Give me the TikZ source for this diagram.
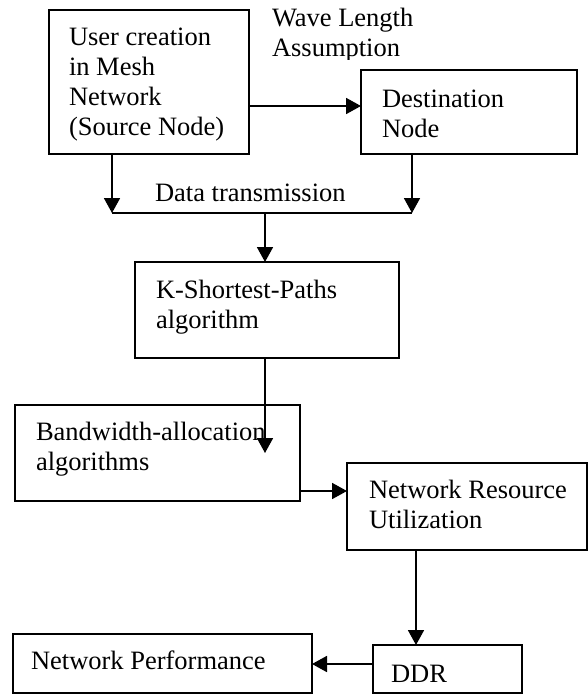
\documentclass[tikz,border=0pt]{standalone}
\usepackage{fontspec}
\setmainfont{Liberation Serif}
\usetikzlibrary{arrows.meta,calc}
\begin{document}
\begin{tikzpicture}[x=1pt,y=-1pt,
  box/.style={draw,line width=1.7pt,inner sep=0pt,outer sep=0pt,anchor=north west},
  txt/.style={inner sep=0pt,outer sep=0pt,anchor=north west,align=left,
    font=\fontsize{26.5}{30}\selectfont},
  arr/.style={line width=1.8pt,-{Triangle[length=15pt,width=16pt]}},
  ln/.style={line width=1.6pt}]
\useasboundingbox[fill=white] (0,0) rectangle (588,694);
% boxes
\node[box,minimum width=200pt,minimum height=144pt] (src) at (49,10) {};
\node[box,minimum width=216pt,minimum height=84pt] (dst) at (361,70) {};
\node[box,minimum width=264pt,minimum height=96pt] (ksp) at (135,262) {};
\node[box,minimum width=285pt,minimum height=96pt] (bw) at (15,405) {};
\node[box,minimum width=240pt,minimum height=87pt] (nru) at (347,463) {};
\node[box,minimum width=299pt,minimum height=59pt] (np) at (13,634) {};
\node[box,minimum width=149pt,minimum height=48pt] (ddr) at (373,645) {};
% texts
\node[txt] (tsrc) at (69,27.5) {User creation\\in Mesh\\Network\\(Source Node)};
\begin{scope}
\clip (250,0) rectangle (588,59.5);
\node[txt] (twl) at (272,8) {Wave Length\\Assumption};
\end{scope}
\node[txt] (tdst) at (382,89.5) {Destination\\Node};
\node[txt] (tdata) at (155,183.5) {Data transmission};
\node[txt] (tksp) at (156,280.5) {K-Shortest-Paths\\algorithm};
\node[txt] (tbw) at (36,422) {Bandwidth-allocation\\algorithms};
\node[txt] (tnru) at (369,480.5) {Network Resource\\Utilization};
\node[txt] (tnp) at (31,650.5) {Network Performance};
\node[txt] (tddr) at (391,665.5) {DDR};
% connectors
\path (src.north east) ++(0,96) coordinate (a1);
\draw[arr] (a1) -- (a1 -| dst.west);
\path (src.south west) ++(63,0) coordinate (s1);
\path (s1) ++(0,59) coordinate (b1);
\draw[arr] (s1) -- (b1);
\path (dst.south west) ++(51,0) coordinate (d1);
\draw[arr] (d1) -- (d1 |- b1);
\draw[ln] (b1) -- (b1 -| d1);
\path (ksp.north west) ++(130,0) coordinate (k1);
\draw[arr] (k1 |- b1) -- (k1);
\path (ksp.south west) ++(130,0) coordinate (k2);
\path (k2 |- bw.north) ++(0,48) coordinate (k3);
\draw[arr] (k2) -- (k3);
\path (bw.north east) ++(0,86) coordinate (w1);
\draw[arr] (w1) -- (w1 -| nru.west);
\path (nru.south west) ++(69,0) coordinate (n1);
\draw[arr] (n1) -- (n1 |- ddr.north);
\path (ddr.north west) ++(0,19) coordinate (r1);
\draw[arr] (r1) -- (r1 -| np.east);
\end{tikzpicture}
\end{document}
